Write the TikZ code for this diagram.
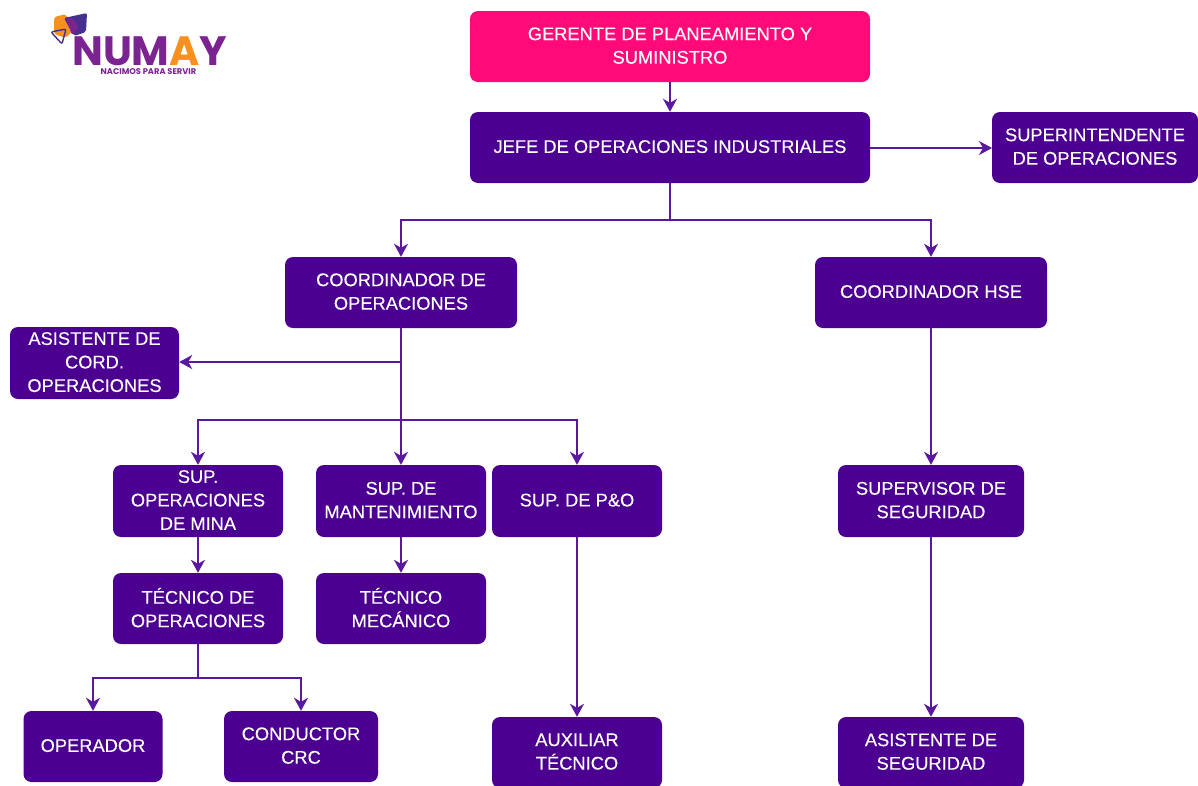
\documentclass[tikz,border=0pt]{standalone}
\usepackage{fontspec}
\setmainfont[FakeBold=0.25]{Liberation Sans}
\newfontfamily\logofont{Poppins}
\definecolor{boxviolet}{HTML}{4B0092}
\definecolor{linkviolet}{HTML}{5A189E}
\definecolor{topmagenta}{HTML}{FF0A78}
\definecolor{logopurple}{HTML}{7B2391}
\definecolor{logoorange}{HTML}{F7901E}
\definecolor{logoblue}{HTML}{46308F}
\usetikzlibrary{arrows.meta}
\usetikzlibrary{positioning}
\tikzset{
    orgbox/.style={fill=boxviolet, text=white, rounded corners=8pt, inner sep=0pt, align=center,
        text depth=2pt, font=\fontsize{18.3}{23.5}\selectfont},
    link/.style={draw=linkviolet, line width=1.7pt, -{Stealth[length=13pt,width=14pt,inset=4pt]}},
    plainlink/.style={draw=linkviolet, line width=1.7pt}
}
\begin{document}
\begin{tikzpicture}[x=1pt,y=-1pt]
    \useasboundingbox (0,0) rectangle (1198,785);
    \clip (0,0) rectangle (1198,785);
    % top of the chart
    \node[orgbox, fill=topmagenta, minimum width=400pt, minimum height=71pt] (gerente) at (670,46.5) {GERENTE DE PLANEAMIENTO Y\\SUMINISTRO};
    \node[orgbox, minimum width=400pt, minimum height=71pt] (jefe) at (670,147.5) {JEFE DE OPERACIONES INDUSTRIALES};
    \node[orgbox, minimum width=206pt, minimum height=71pt] (superint) at (1095,147.5) {SUPERINTENDENTE\\DE OPERACIONES};
    \node[orgbox, minimum width=232pt, minimum height=71pt] (coordop) at (401,292.5) {COORDINADOR DE\\OPERACIONES};
    \node[orgbox, minimum width=232pt, minimum height=71pt] (coordhse) at (931,292.5) {COORDINADOR HSE};
    \node[orgbox, minimum width=169pt, minimum height=72pt] (asistcoord) at (94.5,363) {ASISTENTE DE\\CORD.\\OPERACIONES};
    % supervisors
    \node[orgbox, minimum width=170pt, minimum height=72pt] (supmina) at (198,501) {SUP.\\OPERACIONES\\DE MINA};
    \node[orgbox, minimum width=170pt, minimum height=72pt] (supmant) at (401,501) {SUP. DE\\MANTENIMIENTO};
    \node[orgbox, minimum width=170pt, minimum height=72pt] (suppo) at (577,501) {SUP. DE P\&O};
    \node[orgbox, minimum width=186pt, minimum height=72pt] (supseg) at (931,501) {SUPERVISOR DE\\SEGURIDAD};
    \node[orgbox, minimum width=170pt, minimum height=71pt] (tecop) at (198,608.5) {TÉCNICO DE\\OPERACIONES};
    \node[orgbox, minimum width=170pt, minimum height=71pt] (tecmec) at (401,608.5) {TÉCNICO\\MECÁNICO};
    \node[orgbox, minimum width=139pt, minimum height=71pt] (operador) at (93,746.5) {OPERADOR};
    \node[orgbox, minimum width=154pt, minimum height=71pt] (conductor) at (301,746.5) {CONDUCTOR\\CRC};
    \node[orgbox, minimum width=170pt, minimum height=71pt] (auxiliar) at (577,752.5) {AUXILIAR\\TÉCNICO};
    \node[orgbox, minimum width=186pt, minimum height=71pt] (asistseg) at (931,752.5) {ASISTENTE DE\\SEGURIDAD};
    % connectors
    \coordinate (splitjefe) at (670,220);
    \coordinate (splitasist) at (401,362);
    \coordinate (splitsup) at (401,420);
    \coordinate (splittec) at (198,678);
    \coordinate (entrysuper) at (992,148);
    \draw[link] (gerente) -- (jefe);
    \draw[link] (jefe.east |- entrysuper) -- (entrysuper);
    \draw[plainlink] (jefe) -- (splitjefe);
    \draw[link] (splitjefe) -| (coordop);
    \draw[link] (splitjefe) -| (coordhse);
    \draw[plainlink] (coordop) -- (splitsup);
    \draw[link] (splitasist) -- (asistcoord.east |- splitasist);
    \draw[link] (splitsup) -| (supmina);
    \draw[link] (splitsup) -- (supmant);
    \draw[link] (splitsup) -| (suppo);
    \draw[link] (coordhse) -- (supseg);
    \draw[link] (supmina) -- (tecop);
    \draw[link] (supmant) -- (tecmec);
    \draw[link] (suppo) -- (auxiliar);
    \draw[link] (supseg) -- (asistseg);
    \draw[plainlink] (tecop) -- (splittec);
    \draw[link] (splittec) -| (operador);
    \draw[link] (splittec) -| (conductor);
    % logo
    \fill[logoorange, rounded corners=3pt] (54,17) -- (66,14) -- (73,30) -- (66,38) -- (54,34) -- cycle;
    \fill[logoblue, rounded corners=2pt] (64,18) -- (87,13) -- (86,32) -- (74,36) -- cycle;
    \fill[logopurple, rounded corners=2pt] (66,18) -- (74,19) -- (79,28) -- (72,35) -- cycle;
    \draw[logoblue, line width=1.4pt, rounded corners=2pt] (51,32) -- (66,29) -- (62,44) -- cycle;
    \node[inner sep=0pt, anchor=base west, text=logopurple, font=\logofont\fontsize{41}{41}\selectfont\bfseries] (logoname) at (72,65) {NUM\textcolor{logoorange}{A}Y};
    \node[inner sep=0pt, text=logopurple, font=\logofont\fontsize{8.3}{9}\selectfont\bfseries] (logotag) at (148.5,72) {NACIMOS PARA SERVIR};
\end{tikzpicture}
\end{document}
